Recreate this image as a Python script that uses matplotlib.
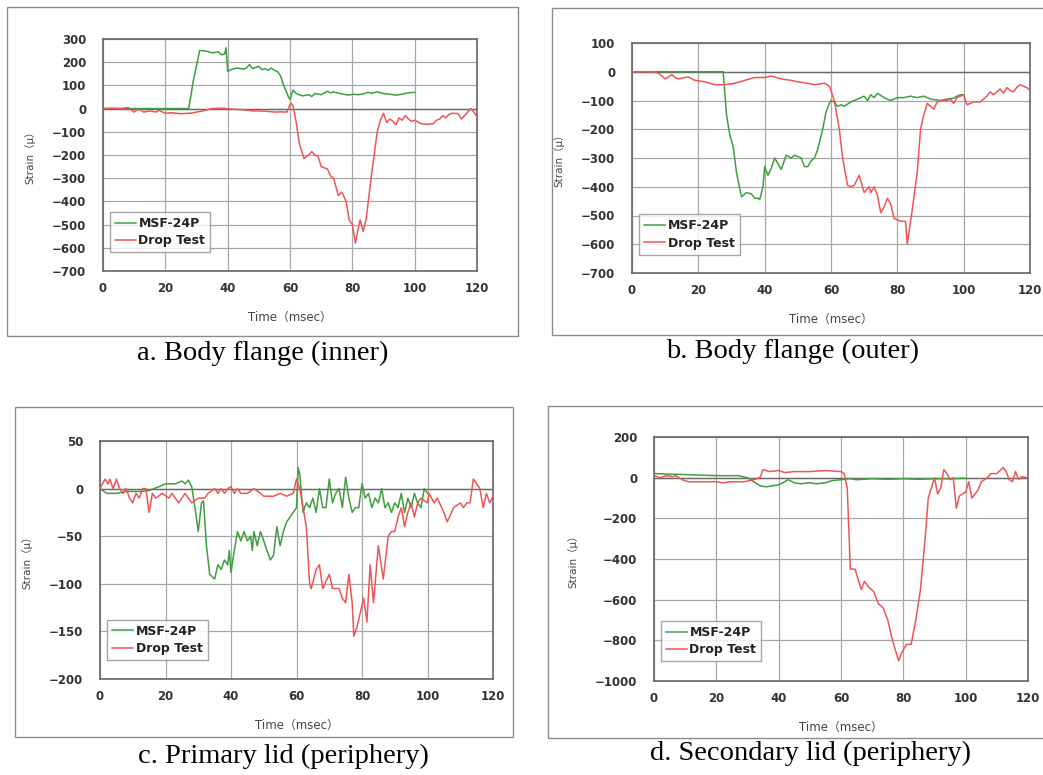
import matplotlib
matplotlib.use("Agg")
import matplotlib.pyplot as plt
from matplotlib.patches import Rectangle

plt.rcParams['font.family'] = ['DejaVu Sans', 'Noto Sans CJK JP']

# ---------------- data ----------------
# Panel a: Body flange (inner)
a_msf_t = [0, 5, 10, 15, 20, 25, 27.5, 29, 31, 32, 34, 35, 37, 38, 39, 39.5, 40, 41, 43, 45, 46, 47, 48, 49, 50, 51, 52, 53, 54, 55, 56, 57, 58, 59.5, 60, 61, 62, 63, 64, 66, 67, 68, 70, 72, 73, 74, 76, 78, 79, 80, 82, 84, 85, 86, 88, 90, 92, 94, 96, 97, 98, 100]
a_msf_v = [0, 0, 0, 0, 0, 0, 0, 120, 250, 250, 245, 240, 245, 232, 235, 262, 160, 168, 175, 170, 175, 190, 172, 178, 182, 168, 172, 165, 175, 165, 160, 140, 100, 50, 40, 80, 65, 60, 55, 60, 52, 65, 60, 75, 68, 72, 65, 60, 58, 62, 60, 65, 70, 66, 72, 65, 62, 58, 62, 65, 68, 70]
a_drop_t = [0, 3, 6, 8, 10, 11, 12, 13, 15, 17, 18, 20, 22, 25, 28, 30, 32, 35, 38, 40, 42, 45, 48, 50, 53, 55, 57, 59, 60.3, 61, 62, 63, 64.5, 66, 67, 68, 69, 70, 72, 73, 74, 75.5, 76.5, 77, 78, 79, 80, 81, 82, 82.5, 83.5, 84.5, 86, 87, 88, 89, 90, 91, 92, 93, 94, 95, 96, 97, 98, 99, 100, 102, 104, 106, 107, 108, 109, 110, 111, 112, 114, 115, 116, 117, 118, 119, 120]
a_drop_v = [0, 2, 0, 5, -15, -5, -5, -15, -10, -15, -8, -20, -18, -22, -20, -15, -10, 0, 2, 0, -3, -5, -10, -10, -12, -15, -14, -15, 25, 10, -60, -150, -215, -200, -185, -200, -205, -250, -260, -290, -300, -375, -360, -370, -400, -480, -500, -580, -510, -480, -530, -470, -300, -200, -100, -50, -20, -60, -45, -55, -70, -40, -50, -30, -45, -55, -50, -65, -68, -65, -50, -45, -30, -40, -25, -20, -22, -45, -30, -15, 0, -15, -35]

# Panel b: Body flange (outer)
b_msf_t = [0, 5, 10, 15, 20, 25, 27.5, 28.5, 29.5, 30.5, 31.5, 33, 34.5, 36, 37, 38, 38.5, 39.5, 40, 41, 42, 43, 44, 45, 46.5, 48, 49, 50, 51, 52, 53, 54, 55, 56, 57.5, 58.5, 59.5, 60, 61, 62, 63, 64, 66, 68, 70, 71, 72, 73, 74, 76, 78, 80, 82, 84, 86, 88, 90, 93, 95, 97, 98, 99, 100]
b_msf_v = [0, 0, 0, 0, 0, 0, 0, -150, -220, -260, -350, -435, -420, -425, -440, -440, -445, -400, -330, -360, -335, -300, -320, -340, -290, -300, -290, -295, -300, -330, -330, -310, -300, -270, -200, -140, -110, -100, -105, -120, -115, -120, -105, -95, -85, -100, -80, -90, -75, -90, -100, -90, -90, -85, -90, -85, -95, -100, -95, -92, -85, -80, -80]
b_drop_t = [0, 3, 6, 8, 10, 12, 13, 14, 16, 17, 19, 22, 25, 28, 31, 34, 37, 40, 42, 45, 48, 50, 53, 55, 58, 59.5, 61, 62.5, 63.5, 65, 66, 67, 68.5, 70, 71.5, 72, 73, 74, 75, 76, 77, 78, 79, 80, 81, 82.5, 83, 84, 84.5, 86, 87, 88, 89, 90, 91, 92, 93, 95, 96, 97, 98, 99, 100, 101, 103, 105, 106, 107, 108, 109, 110, 111, 112, 113, 114, 115, 116, 117, 118, 119, 120]
b_drop_v = [0, 0, 0, -5, -25, -10, -20, -25, -20, -18, -30, -35, -45, -45, -40, -30, -20, -20, -15, -25, -30, -35, -40, -45, -40, -50, -100, -200, -300, -395, -400, -395, -360, -420, -400, -420, -400, -430, -490, -470, -440, -460, -510, -515, -520, -520, -600, -520, -480, -350, -200, -150, -110, -120, -130, -105, -100, -100, -95, -110, -90, -85, -80, -115, -105, -105, -95, -85, -70, -80, -70, -60, -75, -55, -65, -70, -55, -45, -50, -55, -65]

# Panel c: Primary lid (periphery)
c_msf_t = [0, 2, 5, 8, 10, 13, 15, 18, 20, 23, 25, 26, 27, 28, 29, 30, 31, 31.6, 32.5, 33.5, 35, 36, 37, 38, 39, 39.5, 40, 41, 42, 43, 44, 45, 46, 46.5, 47, 48, 49, 50, 51, 52, 53, 54, 55, 56, 57, 58, 59, 60, 60.5, 61, 62, 63, 64, 65, 66, 67, 68, 69, 70, 71, 72, 73, 74, 75, 76, 77, 78, 79, 80, 81, 82, 83, 84, 85, 86, 87, 88, 89, 90, 91, 92, 93, 94, 95, 96, 97, 98, 99, 100]
c_msf_v = [0, -5, -5, -3, -3, -3, -2, 2, 5, 5, 8, 5, 9, 2, -20, -45, -15, -13, -60, -90, -95, -80, -85, -75, -80, -65, -88, -65, -45, -55, -45, -55, -50, -65, -45, -60, -45, -55, -65, -75, -70, -40, -60, -45, -35, -30, -25, -20, 22, 15, -25, -15, -20, -10, -25, 0, -20, -20, 10, -15, -5, 0, -20, 12, -10, -25, -20, -20, 5, -10, -5, -20, -10, -15, 0, -20, -15, -25, -15, -20, -5, -25, -10, -20, -5, -15, -20, 0, -5]
c_drop_t = [0, 1.5, 2.5, 3, 4, 5, 6, 7, 8, 9, 10, 11, 12, 13, 14, 15, 16, 17, 19, 21, 22, 24, 25, 26, 28, 30, 32, 33, 35, 36, 37, 38, 39, 40, 41, 42, 43, 45, 47, 49, 50, 53, 55, 57, 59, 60, 61, 62, 63, 64, 64.5, 66, 67, 68, 70, 71, 73, 74, 75, 76, 77, 77.5, 78.5, 79.5, 80.5, 81.5, 82.5, 83.5, 85, 86.5, 88, 89, 90, 91, 92, 93, 94, 95, 96, 97, 98, 100, 100.5, 102, 103, 105, 106, 108, 110, 111, 112, 113, 114, 116, 117, 118, 119, 120]
c_drop_v = [0, 10, 5, 10, 0, 10, 0, -5, 0, -10, -15, -5, -10, 0, 0, -25, -5, -10, -5, -10, -5, -15, -10, -5, -15, -10, -10, -5, 0, -5, 0, -5, 0, 2, -5, 0, -5, -5, 0, -5, -8, -8, -5, -8, -5, 10, 0, -20, -40, -100, -105, -85, -80, -105, -90, -105, -105, -115, -120, -90, -120, -155, -145, -130, -115, -140, -80, -120, -60, -95, -50, -45, -45, -30, -20, -40, -25, -15, -30, -15, -10, -15, -5, -15, -10, -25, -35, -20, -15, -20, -15, -15, 10, 0, -20, -5, -15, -8]

# Panel d: Secondary lid (periphery)
d_msf_t = [0, 10, 20, 27, 30, 32, 34, 36, 38, 40, 42, 43, 45, 47, 50, 52, 55, 57, 60, 63, 65, 70, 75, 80, 85, 90, 95, 100]
d_msf_v = [20, 15, 10, 10, 0, -20, -40, -45, -40, -35, -20, -10, -25, -30, -25, -30, -25, -15, -10, -5, -10, -5, -8, -5, -8, -5, -5, -3]
d_drop_t = [0, 2, 4, 6, 7, 9, 11, 15, 20, 22, 25, 29, 32, 34, 35, 37, 40, 42, 45, 50, 55, 60, 61, 62, 63, 64.5, 65.5, 66.5, 67.5, 69, 70.5, 72, 73.5, 75, 76.5, 77.5, 78.5, 79.5, 81, 82.5, 84, 85.5, 87, 88, 89, 90, 91, 92, 93, 94, 95, 96, 97, 98, 99, 100, 101, 102, 104, 105, 107, 108, 110, 112, 113, 114, 115, 116, 117, 118, 120]
d_drop_v = [10, 0, 10, 5, 10, -10, -20, -20, -20, -25, -20, -20, -10, 0, 40, 30, 35, 25, 30, 30, 35, 30, 20, -50, -450, -450, -500, -550, -510, -540, -560, -620, -640, -700, -800, -850, -900, -860, -820, -820, -700, -550, -300, -100, -50, 0, -80, -50, 40, 20, -10, 0, -150, -90, -80, -70, -20, -100, -60, -20, 0, 20, 20, 50, 30, -10, -20, 30, -10, 5, 0]

captions = ["a. Body flange (inner)", "b. Body flange (outer)",
            "c. Primary lid (periphery)", "d. Secondary lid (periphery)"]
series_names = ["MSF-24P", "Drop Test"]
x_ticks = [0, 20, 40, 60, 80, 100, 120]

# ---------------- layout ----------------
W, H = 1043, 775
fig = plt.figure(figsize=(W / 100, H / 100), dpi=100)

GREEN = '#3f9e3f'
RED = '#ef5555'

def fx(px):
    return px / W

def fy(py):
    return 1 - py / H

def make_panel(box, frame, cap_xy, ylim, ystep, data, cap):
    l, r, t, b = box
    fl, fr, ft, fb = frame
    fig.add_artist(Rectangle((fx(fl), fy(fb)), fx(fr - fl), (fb - ft) / H,
                             transform=fig.transFigure, fill=False,
                             edgecolor='#8c8c8c', linewidth=1.0))
    ax = fig.add_axes([fx(l), fy(b), fx(r - l), (b - t) / H])
    mt, mv, dt, dv = data
    ax.plot(mt, mv, color=GREEN, lw=1.1, label=series_names[0], zorder=3)
    ax.plot(dt, dv, color=RED, lw=1.1, label=series_names[1], zorder=3)
    ax.axhline(0, color='#6a6a6a', lw=1.0, zorder=2)
    ax.set_xlim(0, 120)
    ax.set_ylim(*ylim)
    ax.set_xticks(x_ticks)
    yt = list(range(ylim[0], ylim[1] + 1, ystep))
    ax.set_yticks(yt)
    ax.set_yticklabels([str(v).replace('-', '\u2212') for v in yt])
    ax.grid(True, color='#a8a8a8', lw=0.9, zorder=1)
    ax.tick_params(axis='x', length=0, labelsize=8.5, colors='#333333', pad=8)
    ax.tick_params(axis='y', length=0, labelsize=8.5, colors='#333333', pad=12)
    for lab in ax.get_xticklabels() + ax.get_yticklabels():
        lab.set_fontweight('bold')
    for s in ax.spines.values():
        s.set_color('#666666')
        s.set_linewidth(1.2)
    ax.set_xlabel('Time\uff08msec\uff09', fontsize=8.5, color='#444444', labelpad=11)
    ax.set_ylabel('Strain\uff08\u03bc\uff09', fontsize=7.5, color='#444444', labelpad=12)
    leg = ax.legend(loc='lower left', bbox_to_anchor=(0.018, 0.08), fontsize=9,
                    frameon=True, fancybox=False, edgecolor='#909090',
                    handlelength=1.7, handletextpad=0.2, borderpad=0.4,
                    labelspacing=0.35, borderaxespad=0)
    leg.get_frame().set_linewidth(1.0)
    for txt in leg.get_texts():
        txt.set_color('#222222')
        txt.set_fontweight('bold')
    fig.text(fx(cap_xy[0]), fy(cap_xy[1]), cap, ha='center', va='center',
             fontsize=20.5, family='Liberation Serif', color='black')
    return ax

make_panel((103, 477, 39, 271), (7, 518, 7, 336), (263, 353), (-700, 300), 100,
           (a_msf_t, a_msf_v, a_drop_t, a_drop_v), captions[0])
make_panel((632, 1030, 43, 273), (552, 1050, 8, 335), (793, 351), (-700, 100), 100,
           (b_msf_t, b_msf_v, b_drop_t, b_drop_v), captions[1])
make_panel((100, 493, 441, 679), (15, 513, 407, 737), (283, 756), (-200, 50), 50,
           (c_msf_t, c_msf_v, c_drop_t, c_drop_v), captions[2])
make_panel((654, 1028, 437, 681), (548, 1050, 406, 738), (810, 753), (-1000, 200), 200,
           (d_msf_t, d_msf_v, d_drop_t, d_drop_v), captions[3])

fig.savefig('out.png', dpi=100)
